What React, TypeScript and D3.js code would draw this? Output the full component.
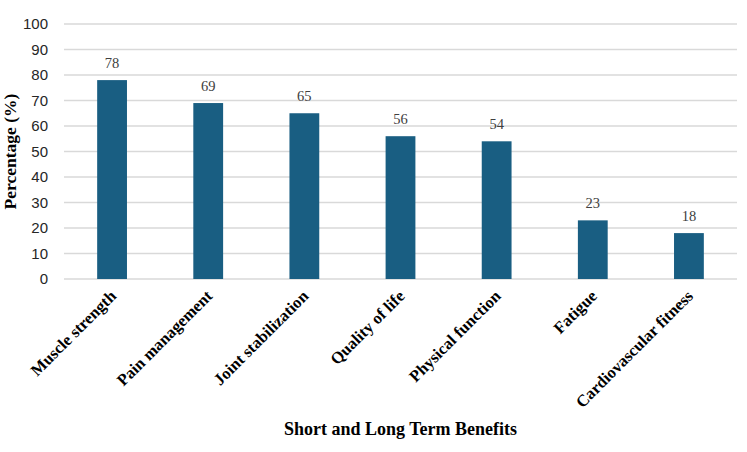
import { scaleBand, scaleLinear } from "d3";

const WIDTH = 747;
const HEIGHT = 452;

const MARGIN = { top: 24, right: 10, bottom: 173, left: 64 };

const CATEGORIES = [
  "Muscle strength",
  "Pain management",
  "Joint stabilization",
  "Quality of life",
  "Physical function",
  "Fatigue",
  "Cardiovascular fitness",
];
const VALUES = [78, 69, 65, 56, 54, 23, 18];
const Y_TICKS = [0, 10, 20, 30, 40, 50, 60, 70, 80, 90, 100];

const BAR_COLOR = "#195e82";
const GRID_COLOR = "#d9d9d9";
const SERIF = "'Liberation Serif', 'Times New Roman', serif";
const SANS = "'Liberation Sans', Arial, sans-serif";

export default function App() {
  const innerWidth = WIDTH - MARGIN.left - MARGIN.right;
  const innerHeight = HEIGHT - MARGIN.top - MARGIN.bottom;

  const x = scaleBand<string>()
    .domain(CATEGORIES)
    .range([0, innerWidth])
    .paddingInner(0.69)
    .paddingOuter(0.345);

  const y = scaleLinear().domain([0, 100]).range([innerHeight, 0]);

  return (
    <svg
      width={WIDTH}
      height={HEIGHT}
      style={{ position: "absolute", left: 0, top: 0, background: "#fff" }}
    >
      <g transform={`translate(${MARGIN.left},${MARGIN.top})`}>
        {/* grid + y ticks */}
        {Y_TICKS.map(t => (
          <g key={t} transform={`translate(0,${y(t)})`}>
            <line x1={0} x2={innerWidth} stroke={GRID_COLOR} strokeWidth={1.5} />
            <text
              x={-16}
              dy="0.35em"
              textAnchor="end"
              fontFamily={SANS}
              fontSize={15}
              fill="#262626"
            >
              {t}
            </text>
          </g>
        ))}

        {/* bars */}
        {CATEGORIES.map((c, i) => (
          <g key={c}>
            <rect
              x={x(c)}
              y={y(VALUES[i])}
              width={x.bandwidth()}
              height={innerHeight - y(VALUES[i])}
              fill={BAR_COLOR}
            />
            <text
              x={(x(c) ?? 0) + x.bandwidth() / 2}
              y={y(VALUES[i]) - 12}
              textAnchor="middle"
              fontFamily={SERIF}
              fontSize={14.5}
              fill="#404040"
            >
              {VALUES[i]}
            </text>
          </g>
        ))}

        {/* x category labels */}
        {CATEGORIES.map(c => (
          <text
            key={c}
            transform={`translate(${(x(c) ?? 0) + x.bandwidth() / 2 + 1},${innerHeight + 14}) rotate(-45)`}
            textAnchor="end"
            dy="0.35em"
            fontFamily={SERIF}
            fontWeight="bold"
            fontSize={16.5}
            fill="#000"
          >
            {c}
          </text>
        ))}

        {/* axis titles */}
        <text
          x={innerWidth / 2}
          y={innerHeight + 156}
          textAnchor="middle"
          fontFamily={SERIF}
          fontWeight="bold"
          fontSize={18}
        >
          Short and Long Term Benefits
        </text>
        <text
          transform={`translate(${-MARGIN.left + 16},${innerHeight / 2}) rotate(-90)`}
          textAnchor="middle"
          fontFamily={SERIF}
          fontWeight="bold"
          fontSize={17.5}
        >
          Percentage (%)
        </text>
      </g>
    </svg>
  );
}
